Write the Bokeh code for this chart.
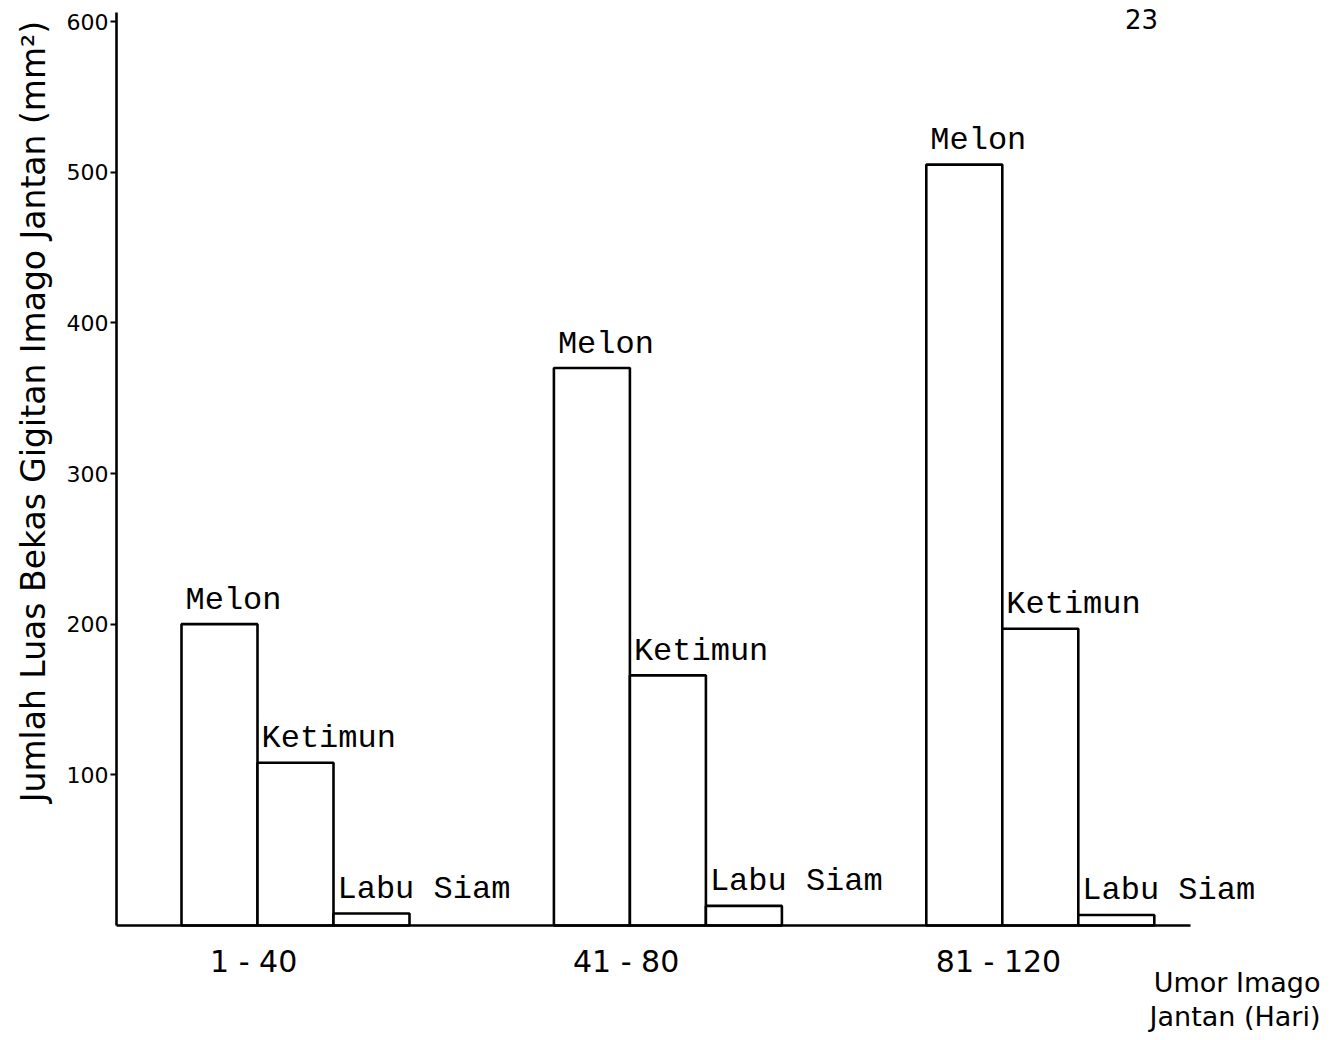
from math import pi
from bokeh.plotting import figure
from bokeh.models import Range1d, FixedTicker, Label, ColumnDataSource
from bokeh.core.properties import value
from bokeh.embed import file_html
from bokeh.resources import INLINE

# ---- data ----
age_groups = ["1 - 40", "41 - 80", "81 - 120"]
series_names = ["Melon", "Ketimun", "Labu Siam"]
melon = [200, 370, 505]
ketimun = [108, 166, 197]
labu_siam = [8, 13, 7]
y_ticks = [100, 200, 300, 400, 500, 600]
y_tick_labels = ["100", "200", "300", "400", "500", "600"]
y_title = "Jumlah Luas Bekas Gigitan Imago Jantan (mm²)"
x_title_lines = ["Umor Imago", "Jantan (Hari)"]
page_number = "23"

# ---- layout constants (pixels) ----
W, H = 1336, 1036
PX_X = 76.0             # pixels per x unit (one bar width)
PX_Y = 904.0 / 600.0    # pixels per y unit
GROUP_STEP = 4.9        # x units between groups
X0_PX = 219.0           # canvas x of first bar centre
Y0_PX = 925.0           # canvas y of the zero line
AXIS_X_PX = 116.0       # canvas x of the y axis
AXIS_END_PX = 1190.0    # canvas x where the base line ends

x_start = -X0_PX / PX_X
x_end = x_start + W / PX_X
y_start = -(H - Y0_PX) / PX_Y
y_end = Y0_PX / PX_Y
x_axis_at = (AXIS_X_PX - X0_PX) / PX_X

p = figure(width=W, height=H, output_backend="svg", toolbar_location=None,
           x_range=Range1d(x_start, x_end), y_range=Range1d(y_start, y_end),
           min_border=0, min_border_left=0, min_border_right=0,
           min_border_top=0, min_border_bottom=0)
p.outline_line_color = None
p.xgrid.grid_line_color = None
p.ygrid.grid_line_color = None
p.background_fill_color = "white"
p.border_fill_color = "white"

# bars
all_series = [melon, ketimun, labu_siam]
xs, tops, lefts, texts = [], [], [], []
for g in range(len(age_groups)):
    for j, vals in enumerate(all_series):
        cx = g * GROUP_STEP + j
        xs.append(cx)
        tops.append(vals[g])
        lefts.append(cx - 0.5)
        texts.append(series_names[j])
src = ColumnDataSource(dict(x=xs, top=tops, left=lefts, text=texts))
p.vbar(x="x", top="top", bottom=0, width=1.0, source=src,
       fill_color="white", line_color="black", line_width=2.6)
p.text(x="left", y="top", text="text", source=src,
       text_font=value("Liberation Mono"), text_font_size="32px",
       text_color="black", text_baseline="alphabetic", text_align="left",
       x_offset=4, y_offset=-24)

# y axis (fixed at the drawn axis position)
ya = p.yaxis[0]
ya.fixed_location = x_axis_at
ya.ticker = FixedTicker(ticks=y_ticks)
ya.major_label_overrides = {t: l for t, l in zip(y_ticks, y_tick_labels)}
ya.bounds = (0, 606)
ya.axis_line_width = 2.6
ya.axis_line_color = "black"
ya.major_tick_out = 6
ya.major_tick_in = 0
ya.major_tick_line_width = 2
ya.minor_tick_out = 0
ya.minor_tick_in = 0
ya.major_label_standoff = 2
ya.major_label_text_font = "DejaVu Sans"
ya.major_label_text_font_size = "22px"
ya.major_label_text_color = "black"

# x axis (fixed at zero)
xa = p.xaxis[0]
xa.fixed_location = 0
x_tick_pos = [g * GROUP_STEP + 0.45 for g in range(len(age_groups))]
xa.ticker = FixedTicker(ticks=x_tick_pos)
xa.major_label_overrides = {t: l for t, l in zip(x_tick_pos, age_groups)}
xa.bounds = (x_axis_at, (AXIS_END_PX - X0_PX) / PX_X)
xa.axis_line_width = 2.6
xa.axis_line_color = "black"
xa.major_tick_out = 0
xa.major_tick_in = 0
xa.minor_tick_out = 0
xa.minor_tick_in = 0
xa.major_label_standoff = 18
xa.major_label_text_font = "DejaVu Sans"
xa.major_label_text_font_size = "30px"
xa.major_label_text_color = "black"

# y title
p.add_layout(Label(x=33, y=H - 411, x_units="screen", y_units="screen",
                   text=y_title, angle=pi / 2, text_align="center", text_baseline="middle",
                   text_font="DejaVu Sans", text_font_size="33px", text_color="black"))

# x title (bottom right)
for i, line in enumerate(x_title_lines):
    p.add_layout(Label(x=W - 16, y=H - (982 + i * 34), x_units="screen", y_units="screen",
                       text=line, text_align="right", text_baseline="middle",
                       text_font="DejaVu Sans", text_font_size="27px", text_color="black"))

# page number
p.add_layout(Label(x=1141, y=H - 18, x_units="screen", y_units="screen",
                   text=page_number, text_align="center", text_baseline="middle",
                   text_font="DejaVu Sans", text_font_size="26px", text_color="black"))

open("out.html", "w").write(file_html(p, INLINE))
